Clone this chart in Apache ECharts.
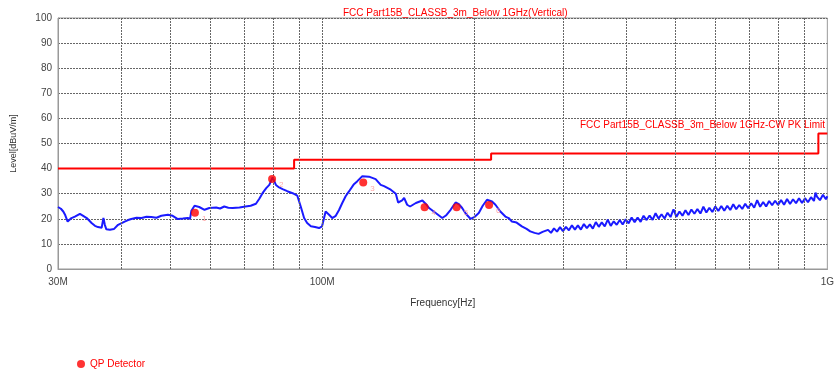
<!DOCTYPE html>
<html>
<head>
<meta charset="utf-8">
<script src="https://cdn.jsdelivr.net/npm/echarts@6/dist/echarts.min.js"></script>
<style>
html, body { margin: 0; padding: 0; background: #fff; }
#chart { width: 837px; height: 369px; }
</style>
</head>
<body>
<div id="chart"></div>
<script>
// frequency in MHz, level in dBuV/m
var traceFreq = [30.0, 30.4, 30.73, 31.0, 31.35, 31.9, 32.4, 33.15, 33.65, 34.2, 34.96, 35.5, 36.0, 36.6, 36.9, 37.15, 37.4, 38.0, 38.7, 39.45,
    40.65, 41.3, 41.9, 42.9, 43.9, 44.9, 45.9, 47.0, 48.05, 49.5, 50.6, 51.8, 53.0, 54.2, 54.76, 55.1, 55.9, 57.1, 58.5, 59.8,
    61.7, 62.8, 64.0, 65.2, 66.5, 68.6, 70.5, 72.2, 73.95, 75.1, 76.2, 77.5, 78.6, 79.8, 81.0, 82.2, 83.5, 85.3, 87.4, 89.3,
    90.7, 92.1, 93.4, 95.0, 96.8, 98.6, 99.96, 101.6, 103.2, 104.7, 106.4, 108.0, 109.6, 111.3, 113.0, 115.6, 117.4, 120.1, 121.0, 123.8,
    127.6, 130.6, 132.6, 136.7, 139.9, 141.4, 144.0, 145.3, 147.3, 149.3, 153.3, 157.9, 160.6, 162.8, 167.8, 172.9, 175.8, 179.6, 183.7, 186.5,
    189.3, 192.5, 196.6, 200.5, 204.2, 207.9, 212.0, 216.9, 220.3, 225.3, 230.5, 234.0, 237.5, 242.6, 248.5, 253.9, 258.2, 263.3, 268.2, 273.1,
    280, 283.8, 287.7, 291.7, 295.7, 299.7, 303.8, 308, 312.2, 316.5, 320.8, 325.2, 329.7, 334.2, 338.8, 343.4, 348.1, 352.9, 357.7, 362.6,
    367.6, 372.6, 377.7, 382.9, 388.2, 393.5, 398.9, 404.3, 409.9, 415.5, 421.2, 427, 432.8, 438.8, 444.8, 450.9, 457.1, 463.3, 469.7, 476.1,
    482.7, 489.3, 496, 502.8, 509.7, 516.7, 523.8, 531, 538.2, 545.6, 553.1, 560.7, 568.4, 576.2, 584.1, 592.1, 600.2, 608.4, 616.8, 625.2,
    633.8, 642.5, 651.3, 660.2, 669.3, 678.5, 687.8, 697.2, 706.8, 716.5, 726.3, 736.3, 746.4, 756.6, 767, 777.5, 788.2, 799, 809.9, 821,
    832.3, 843.7, 855.3, 867, 878.9, 891, 903.2, 915.6, 928.2, 940.9, 947.5, 953.8, 966.9, 980.2, 993.6, 1000];
var traceLevel = [24.7, 24.0, 22.9, 21.5, 18.9, 20.3, 20.9, 22.0, 21.2, 20.3, 18.3, 17.2, 16.7, 16.4, 20.3, 17.5, 15.8, 15.6, 15.9, 17.6,
    18.9, 19.5, 19.9, 20.4, 20.3, 20.8, 20.7, 20.4, 21.2, 21.6, 21.2, 19.9, 20.1, 20.3, 20.0, 23.2, 25.2, 24.7, 23.6, 24.3,
    24.5, 24.1, 24.9, 24.4, 24.3, 24.5, 24.9, 25.2, 26.0, 28.0, 30.2, 32.2, 33.5, 36.5, 33.5, 32.5, 31.8, 31.0, 30.2, 29.2,
    24.9, 20.3, 18.3, 17.0, 16.7, 16.3, 17.0, 22.9, 21.6, 20.3, 21.2, 23.5, 26.3, 29.0, 30.9, 33.8, 35.0, 37.0, 37.5, 36.8,
    35.8, 33.5, 33.0, 31.6, 30.0, 26.5, 27.3, 28.3, 25.6, 24.9, 26.3, 27.3, 25.8, 24.3, 22.3, 20.3, 21.3, 23.6, 26.5, 25.8,
    24.3, 22.0, 20.0, 20.8, 22.3, 25.2, 27.6, 26.9, 25.6, 22.9, 20.9, 20.3, 18.9, 18.5, 17.0, 16.0, 15.0, 14.4, 14.0, 14.8,
    15.6, 14.4, 16.2, 14.9, 16.7, 15.1, 16.8, 15.4, 17.4, 15.7, 17.4, 15.7, 17.9, 16.3, 17.8, 16.1, 18.7, 16.8, 18.6, 17.0,
    19.7, 17.2, 19.0, 17.6, 19.5, 17.7, 19.8, 18.2, 20.5, 18.6, 20.5, 18.8, 21.2, 19.5, 21.3, 19.6, 22.2, 20.1, 21.8, 20.1,
    22.4, 20.7, 23.8, 20.8, 22.9, 21.2, 23.4, 21.5, 23.7, 22.0, 23.9, 22.1, 24.8, 22.5, 24.4, 22.7, 24.9, 23.1, 25.1, 23.2,
    25.2, 23.5, 25.8, 23.8, 25.5, 23.9, 26.0, 24.2, 26.2, 24.4, 27.4, 24.8, 26.7, 24.9, 27.1, 25.4, 27.2, 25.5, 27.5, 25.6,
    27.9, 25.9, 27.8, 26.2, 28.2, 26.3, 28.2, 26.6, 28.6, 27.1, 30.4, 28.8, 27.4, 29.6, 27.8, 29.0];

var limitFreq = [30, 88, 88, 216, 216, 960, 960, 1000];
var limitLevel = [40, 40, 43.5, 43.5, 46, 46, 54, 54];

var qpFreq = [56.0, 79.6, 120.6, 159.5, 184.6, 214.0];
var qpLevel = [22.4, 35.9, 34.5, 24.6, 24.6, 25.5];

var gridFreq = [40, 50, 60, 70, 80, 90, 100, 200, 300, 400, 500, 600, 700, 800, 900];

var chart = echarts.init(document.getElementById('chart'));
var font = 'Liberation Sans';

var option = {
    animation: false,
    textStyle: { fontFamily: font },
    title: [
        {
            text: 'FCC Part15B_CLASSB_3m_Below 1GHz(Vertical)',
            left: 338, top: 3,
            textStyle: { color: '#ff0000', fontSize: 10, fontWeight: 'normal', fontFamily: font }
        },
        {
            text: 'FCC Part15B_CLASSB_3m_Below 1GHz-CW PK Limit',
            right: 7, top: 115,
            textStyle: { color: '#ff0000', fontSize: 10, fontWeight: 'normal', fontFamily: font }
        }
    ],
    legend: {
        data: ['QP Detector'],
        left: 72, top: 354,
        icon: 'circle', itemWidth: 8, itemHeight: 8, itemGap: 5,
        textStyle: { color: '#ff0000', fontSize: 10, fontFamily: font }
    },
    grid: {
        left: 58, right: 7, top: 18, bottom: 100,
        show: true, borderColor: '#999', borderWidth: 1
    },
    xAxis: {
        type: 'log', logBase: 10, min: 30, max: 1000,
        name: 'Frequency[Hz]', nameLocation: 'middle', nameGap: 29,
        nameTextStyle: { color: '#333', fontSize: 10 },
        axisLine: { lineStyle: { color: '#999' } },
        axisTick: { show: false },
        splitLine: { show: false },
        axisLabel: {
            color: '#444', fontSize: 10, showMinLabel: true, showMaxLabel: true,
            formatter: function (v) { return v >= 999 ? '1G' : Math.round(v) + 'M'; }
        }
    },
    yAxis: {
        type: 'value', min: 0, max: 100, interval: 10,
        name: 'Level[dBuV/m]', nameLocation: 'middle', nameGap: 40, nameRotate: 90,
        nameTextStyle: { color: '#333', fontSize: 9 },
        axisLine: { show: true, lineStyle: { color: '#999' } },
        axisTick: { show: false },
        axisLabel: { color: '#444', fontSize: 10, margin: 6 },
        splitLine: { lineStyle: { color: '#666', type: [2, 1], width: 1 } }
    },
    series: [
        {
            name: 'grid',
            type: 'line',
            data: [],
            silent: true,
            markLine: {
                silent: true, symbol: 'none', label: { show: false },
                lineStyle: { color: '#666', type: [2, 1], width: 1 },
                data: gridFreq.map(function (f) { return { xAxis: f }; })
            }
        },
        {
            name: 'Trace',
            type: 'line',
            data: traceFreq.map(function (f, i) { return [f, traceLevel[i]]; }),
            showSymbol: false,
            lineStyle: { color: '#1a1aff', width: 2 },
            z: 3
        },
        {
            name: 'Limit',
            type: 'line',
            data: limitFreq.map(function (f, i) { return [f, limitLevel[i]]; }),
            showSymbol: false,
            lineStyle: { color: '#ff0000', width: 2 },
            z: 4
        },
        {
            name: 'QP Detector',
            type: 'scatter',
            data: qpFreq.map(function (f, i) { return [f, qpLevel[i]]; }),
            symbol: 'circle', symbolSize: 8,
            itemStyle: { color: '#ff0000' },
            label: {
                show: true, position: 'right', offset: [-2, 6],
                color: '#ff9090', fontSize: 8,
                formatter: function (p) { return String(p.dataIndex + 1); }
            },
            z: 5
        }
    ]
};
chart.setOption(option);
</script>
</body>
</html>
